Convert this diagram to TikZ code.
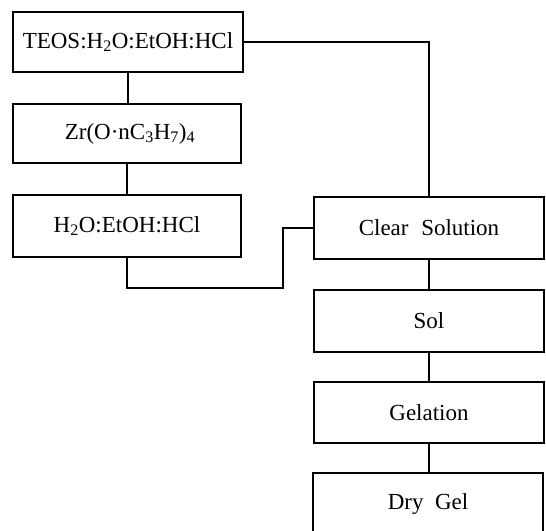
\documentclass[tikz,border=0pt]{standalone}
\usepackage{fontspec}
\setmainfont{Liberation Serif}
\begin{document}
\begin{tikzpicture}[x=1pt,y=-1pt,
  stepbox/.style={draw, line width=1.6pt, inner sep=0pt, anchor=center,
    font=\fontsize{23}{28}\selectfont},
  link/.style={line width=1.6pt}]
\useasboundingbox (0,0) rectangle (546,530);
\clip (0,0) rectangle (546,530);
\node[stepbox, minimum width=230pt, minimum height=60pt] (b1) at (128,42) {TEOS:H\textsubscript{2}O:EtOH:HCl};
\node[stepbox, minimum width=228pt, minimum height=59pt] (b2) at (127,133.5) {\hspace{6pt}Zr(O·nC\textsubscript{3}H\textsubscript{7})\textsubscript{4}};
\node[stepbox, minimum width=228pt, minimum height=62pt] (b3) at (127,226) {H\textsubscript{2}O:EtOH:HCl};
\node[stepbox, minimum width=230pt, minimum height=62pt] (cs) at (429,228) {Clear\hspace{0.55em}Solution};
\node[stepbox, minimum width=230pt, minimum height=62pt] (sol) at (429,321) {Sol};
\node[stepbox, minimum width=230pt, minimum height=61pt] (gel) at (429,412.5) {Gelation};
\node[stepbox, minimum width=230pt, minimum height=62pt] (dry) at (428,504) {Dry\hspace{0.5em}Gel};
\coordinate (j1) at (283,288);
\draw[link] (b1.south) -- (b1.south |- b2.north);
\draw[link] (b2.south) -- (b2.south |- b3.north);
\draw[link] (b1.east) -| (cs.north);
\draw[link] (b3.south) |- (j1) |- (cs.west);
\draw[link] (cs.south) -- (cs.south |- sol.north);
\draw[link] (sol.south) -- (sol.south |- gel.north);
\draw[link] (gel.south) -- (gel.south |- dry.north);
\end{tikzpicture}
\end{document}
